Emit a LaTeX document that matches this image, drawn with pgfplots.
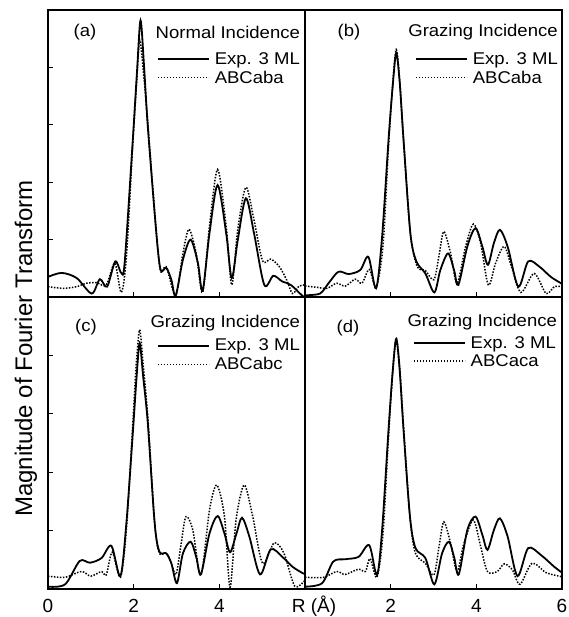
\documentclass[border=0pt]{standalone}
\usepackage{fontspec}
\setmainfont{Liberation Sans}[FakeStretch=1.09]
\newfontfamily\ylabfont{Liberation Sans}
\usepackage{pgfplots}
\pgfplotsset{compat=1.18}
\newcommand\txt{\fontsize{17bp}{20bp}\selectfont}
\newcommand\tck{\ylabfont\fontsize{19bp}{22bp}\selectfont}
\pgfplotsset{
 panel/.style={scale only axis, width=257bp, xmin=0, xmax=6, ymin=0, ymax=5,
   axis line style={line width=1.3bp},
   tick style={line width=0.9bp, black}, major tick length=5bp, tick align=inside,
   xtick={2,4}, xtick pos=bottom, ytick pos=left, xticklabels={}, yticklabels={},
   /pgf/number format/assume math mode=true,
   xticklabel style={font=\tck, anchor=base, yshift=-23.5bp},
   legend cell align=left,
   legend image code/.code={\draw[##1] (0bp,0bp) -- (51bp,0bp); \path (56bp,0bp);},
   legend style={draw=none, fill=none, inner sep=0pt, outer sep=0pt, anchor=north west,
     row sep=5bp, nodes={inner sep=0pt, font=\txt}},
 },
 exp/.style={black, line width=1.8bp, smooth, tension=0.5, mark=none},
 sim/.style={black, line width=1.5bp, dash pattern=on 1.5bp off 1.5bp, smooth, tension=0.5, mark=none},
}
\begin{document}
\begin{tikzpicture}
\useasboundingbox (-48bp,-28bp) rectangle (521bp,589bp);
% ---------------- (a)
\begin{axis}[panel, height=287bp, at={(0bp,292bp)}, anchor=south west, ytick={1,2,3,4},
  legend style={at={(0.424,0.852)}}]
\addplot[exp] coordinates {(0,0.35)(0.32,0.42)(0.67,0.33)(1.02,0.06)(1.21,0.31)(1.38,0.18)(1.57,0.62)(1.71,0.42)(1.79,0.60)(1.98,2.74)(2.08,3.95)(2.16,4.82)(2.24,4.05)(2.33,2.97)(2.53,1.11)(2.63,0.47)(2.76,0.51)(2.88,0.30)(2.98,0.02)(3.15,0.65)(3.33,1.00)(3.50,0.59)(3.61,0.11)(3.77,1.11)(3.96,1.95)(4.16,1.11)(4.29,0.33)(4.43,0.99)(4.62,1.72)(4.81,1.11)(5.05,0.21)(5.26,0.37)(5.47,0.27)(5.67,0.21)(5.94,0.02)(6.0,0.0)};
\addlegendentry{Exp. 3 ML}
\addplot[sim] coordinates {(0,0.18)(0.36,0.15)(0.67,0.18)(0.9,0.24)(1.13,0.25)(1.36,0.21)(1.56,0.59)(1.71,0.08)(1.83,0.70)(1.98,2.68)(2.07,3.75)(2.14,4.48)(2.23,3.9)(2.33,3.03)(2.53,1.11)(2.63,0.44)(2.76,0.53)(2.98,0.03)(3.15,0.76)(3.29,1.18)(3.46,0.76)(3.61,0.08)(3.77,1.23)(3.96,2.22)(4.16,1.23)(4.29,0.21)(4.43,1.17)(4.62,1.91)(4.81,1.34)(5.01,0.63)(5.20,0.66)(5.40,0.53)(5.57,0.30)(5.71,0.06)(5.86,0.19)(6.0,0.21)};
\addlegendentry{ABCaba}
\node[font=\txt, inner sep=0pt] at (axis description cs:0.144,0.923) {(a)};
\node[font=\txt, inner sep=0pt, anchor=east] at (axis description cs:0.981,0.923) {Normal Incidence};
\end{axis}
% ---------------- (b)
\begin{axis}[panel, height=287bp, at={(257bp,292bp)}, anchor=south west, ytick=\empty,
  legend style={at={(0.428,0.852)}}]
\addplot[exp] coordinates {(0,0.03)(0.35,0.06)(0.55,0.24)(0.78,0.44)(1.02,0.40)(1.29,0.47)(1.48,0.70)(1.66,0.15)(1.80,1.05)(1.95,2.74)(2.05,3.7)(2.13,4.25)(2.21,3.75)(2.30,2.74)(2.46,1.11)(2.60,0.62)(2.81,0.41)(3.02,0.08)(3.16,0.47)(3.34,0.76)(3.48,0.47)(3.58,0.21)(3.79,0.88)(3.98,1.20)(4.14,0.88)(4.27,0.56)(4.41,0.94)(4.55,1.17)(4.73,0.88)(4.98,0.18)(5.21,0.62)(5.47,0.53)(5.74,0.35)(6.0,0.23)};
\addlegendentry{Exp. 3 ML}
\addplot[sim] coordinates {(0,0.19)(0.27,0.17)(0.51,0.15)(0.74,0.24)(0.94,0.19)(1.17,0.31)(1.33,0.24)(1.50,0.48)(1.66,0.18)(1.82,0.88)(1.95,2.62)(2.05,3.72)(2.13,4.31)(2.21,3.78)(2.30,2.74)(2.46,1.11)(2.62,0.53)(2.81,0.46)(3.01,0.30)(3.13,0.73)(3.24,1.14)(3.40,0.76)(3.55,0.24)(3.75,0.88)(3.93,1.27)(4.10,0.94)(4.28,0.21)(4.45,0.59)(4.65,0.88)(4.82,0.53)(5.04,0.08)(5.35,0.41)(5.63,0.06)(5.82,0.18)(6.0,0.18)};
\addlegendentry{ABCaba}
\node[font=\txt, inner sep=0pt] at (axis description cs:0.171,0.923) {(b)};
\node[font=\txt, inner sep=0pt, anchor=east] at (axis description cs:0.984,0.923) {Grazing Incidence};
\end{axis}
% ---------------- (c)
\begin{axis}[panel, height=292bp, at={(0bp,0bp)}, anchor=south west, ytick={1,2,3,4},
  xtick={0,2,4}, xticklabels={0,2,4},
  legend style={at={(0.424,0.856)}}]
\addplot[exp] coordinates {(0,0.04)(0.40,0.08)(0.74,0.48)(0.98,0.45)(1.25,0.53)(1.48,0.74)(1.69,0.22)(1.83,1.13)(1.98,2.67)(2.07,3.65)(2.14,4.21)(2.22,3.65)(2.33,2.84)(2.49,1.13)(2.60,0.64)(2.76,0.61)(2.88,0.44)(3.01,0.10)(3.15,0.61)(3.33,0.81)(3.46,0.55)(3.57,0.25)(3.77,0.95)(3.96,1.25)(4.12,0.95)(4.25,0.63)(4.40,0.95)(4.53,1.22)(4.70,0.90)(4.95,0.25)(5.20,0.68)(5.47,0.55)(5.71,0.38)(5.95,0.27)(6.0,0.26)};
\addlegendentry{Exp. 3 ML}
\addplot[sim] coordinates {(0,0.22)(0.40,0.20)(0.78,0.30)(1.0,0.22)(1.25,0.30)(1.36,0.24)(1.50,0.63)(1.69,0.20)(1.83,1.01)(1.98,2.84)(2.06,3.85)(2.14,4.44)(2.22,3.85)(2.33,2.95)(2.49,1.13)(2.60,0.61)(2.76,0.62)(2.88,0.44)(2.99,0.25)(3.11,0.78)(3.22,1.24)(3.38,1.01)(3.57,0.24)(3.77,1.35)(3.94,1.78)(4.12,1.24)(4.25,0.03)(4.39,1.18)(4.58,1.78)(4.78,1.24)(5.01,0.44)(5.28,0.79)(5.51,0.61)(5.76,0.05)(6.0,0.15)};
\addlegendentry{ABCabc}
\node[font=\txt, inner sep=0pt] at (axis description cs:0.148,0.897) {(c)};
\node[font=\txt, inner sep=0pt, anchor=east] at (axis description cs:0.981,0.911) {Grazing Incidence};
\end{axis}
% ---------------- (d)
\begin{axis}[panel, height=292bp, at={(257bp,0bp)}, anchor=south west, ytick=\empty,
  xtick={2,4,6}, xticklabels={2,4,6},
  legend style={at={(0.42,0.866)}}]
\addplot[exp] coordinates {(0,0.04)(0.40,0.10)(0.66,0.47)(0.94,0.51)(1.25,0.55)(1.50,0.75)(1.68,0.24)(1.80,1.01)(1.95,2.73)(2.05,3.75)(2.13,4.28)(2.21,3.75)(2.30,2.73)(2.45,1.24)(2.58,0.70)(2.81,0.53)(3.02,0.08)(3.20,0.61)(3.36,0.81)(3.48,0.55)(3.59,0.25)(3.79,1.01)(3.98,1.24)(4.14,0.93)(4.26,0.67)(4.41,1.01)(4.55,1.21)(4.73,0.90)(4.96,0.22)(5.21,0.70)(5.51,0.58)(5.82,0.38)(6.0,0.28)};
\addlegendentry{Exp. 3 ML}
\addplot[sim] coordinates {(0,0.20)(0.43,0.20)(0.74,0.30)(0.94,0.25)(1.25,0.34)(1.41,0.30)(1.52,0.52)(1.68,0.20)(1.82,0.93)(1.95,2.61)(2.05,3.75)(2.13,4.30)(2.21,3.8)(2.30,2.78)(2.45,1.24)(2.58,0.61)(2.81,0.44)(3.01,0.24)(3.13,0.73)(3.24,1.15)(3.40,0.78)(3.55,0.30)(3.71,0.78)(3.93,1.18)(4.10,0.73)(4.26,0.30)(4.49,0.30)(4.65,0.43)(4.84,0.33)(5.02,0.08)(5.30,0.44)(5.63,0.28)(6.0,0.21)};
\addlegendentry{ABCaca}
\node[font=\txt, inner sep=0pt] at (axis description cs:0.167,0.894) {(d)};
\node[font=\txt, inner sep=0pt, anchor=east] at (axis description cs:0.981,0.914) {Grazing Incidence};
\end{axis}
\node[font=\tck, anchor=base, inner sep=0pt] at (266bp,-23.5bp) {R (Å)};
\node[rotate=90, anchor=base, inner sep=0pt, font={\ylabfont\fontsize{24bp}{28bp}\selectfont}] at (-16bp,240.5bp) {Magnitude of Fourier Transform};
\end{tikzpicture}
\end{document}
